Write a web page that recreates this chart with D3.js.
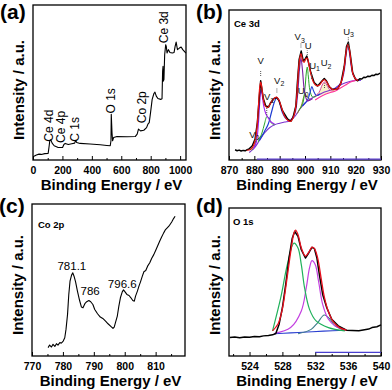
<!DOCTYPE html>
<html><head><meta charset="utf-8">
<script src="https://cdn.jsdelivr.net/npm/d3@7"></script>
<style>body{margin:0;background:#fff}svg{display:block}</style>
</head><body>
<svg id="c" width="392" height="390"></svg>
<script>
// ---------- (a) survey ----------
const surveyTicks = [0,200,400,600,800,1000];
const surveyMinor = [100,300,500,700,900];
const surveyData = [[7,2.4],[23,3.2],[41,3.8],[57,3.6],[80,4.1],[103,4.3],[110,9.2],[114,12.4],[121,13],[130,10.9],[144,9.2],[171,8.1],[201,8.1],[210,10],[219,10.7],[240,10],[263,10.5],[283,10.9],[290,12.6],[297,11.3],[320,10.7],[388,10.3],[457,9.8],[502,9.4],[525,9.2],[530,12.4],[532,29.5],[537,17.7],[541,12.4],[548,14.5],[571,15.2],[639,15],[696,15.2],[708,16.7],[717,19.9],[731,18.8],[753,19.2],[772,20.9],[781,23.1],[790,24.1],[799,30.6],[810,39.1],[822,42.9],[829,43.8],[838,41.2],[849,39.7],[868,39.1],[877,39.5],[881,57.3],[884,60.5],[886,50.9],[890,51.9],[895,67.9],[902,74.4],[906,73.3],[911,69],[920,71.2],[931,69.4],[947,69],[959,69.4],[966,73.3],[973,76.1],[982,71.2],[995,72.2],[1007,72.9],[1018,71.2],[1032,69.7],[1039,69]];
const surveyLabels = [["Ce 4d",109,11.8],["Ce 4p",187,11],["C 1s",283,11.8],["O 1s",533,30],["Co 2p",741,23.7],["Ce 3d",888,75.3]];

// ---------- (b) Ce 3d ----------
const ceTicks = [870,880,890,900,910,920,930];
const ceMinor = [875,885,895,905,915,925];
const ceData = [[872.4,6.8],[873.2,6.2],[874,6.6],[874.8,6],[875.6,6.4],[876.4,6.1],[877.2,6.9],[877.9,7.3],[879.2,9.5],[880.3,14],[881.2,25],[881.9,40.6],[882.5,52.8],[883,47],[883.6,40.6],[884.5,36],[885.6,35.3],[886.5,38.4],[887.8,41],[888.9,41.7],[889.8,39.5],[891.1,32.9],[893.1,27.4],[894.4,25.8],[895.3,28.5],[896.4,36],[897,51.6],[897.7,67.1],[898.5,72.6],[899.3,66],[900,67.1],[900.7,69.3],[901.4,64.9],[902.3,58.3],[903.6,51.6],[905,49.4],[906.7,52.7],[907.6,54.3],[908.5,52.7],[909.6,48.8],[910.9,47],[912.9,47.5],[914.2,51.4],[915.5,62.5],[916.4,75.7],[917.1,78.4],[917.8,71.3],[918.8,58.3],[919.9,53.9],[920.8,52.8],[921.6,54.2],[922.4,54],[923.2,55.2],[924,55],[924.8,55.9],[925.6,55.6],[926.4,56.5],[927.2,56.3],[928,57.2],[928.8,57],[929.6,57.9]];
const ceFit = [[877,6.5],[878.5,7],[879.5,9],[880.3,13],[881,21],[881.6,35],[882.1,48],[882.5,52],[882.9,49],[883.5,41],[884.3,36],[885.3,35],[886.3,37.5],[887.5,40.5],[888.7,42],[889.7,40],[890.8,34.5],[892,29],[893.2,26.5],[894.3,25.8],[895.3,28],[896.3,35],[897,49],[897.7,65],[898.4,71],[899,67],[899.6,65],[900.4,67.5],[900.9,68],[901.5,64],[902.3,57.5],[903.3,52],[904.5,49.5],[905.7,50],[906.8,52.5],[907.7,53.5],[908.6,52],[909.6,49],[910.8,47],[912,47],[913.3,48.5],[914.5,53],[915.5,62],[916.3,73],[916.9,77],[917.5,74],[918.2,65],[919,57],[920,54],[921,53]];
const ceBackground = [[878,5],[880,8],[882,13],[884,18],[886,21.5],[888,23.5],[890,24.5],[892,25.3],[894,26],[896,29],[898,34],[900,38],[902,40.5],[904,42.5],[906,44],[908,45.5],[910,46.5],[912,48],[914,50],[916,51.5],[918,52.5],[920,53],[922,53]];
const cePink = [[904,40],[907,43],[910,45],[912,46],[914,48],[916,50],[918,52],[920,53],[921,53.5]];
const ceV0 = [[879,6.5],[880,9],[880.7,12.5],[881.3,14],[882,14.5],[883,16.5],[884,18.5]];
const ceV = [[879.5,7],[880.8,12],[881.6,24],[882.2,40],[882.6,47],[883.1,43],[883.7,36],[884.5,31],[885.5,28],[886.5,25.5],[888,24]];
const ceV1 = [[881.5,12],[883,18],[884,24],[885,29],[885.8,28],[886.8,24.5],[888,23.5]];
const ceV2 = [[882,13],[884,19],[885.5,24],[886.8,32],[888,39],[888.9,41.5],[889.8,39],[891,32],[892.3,28],[894,26]];
const ceV3 = [[894,26],[896,31],[897,42],[897.8,60],[898.4,68],[899,60],[899.8,46],[901,39.5],[903,41]];
const ceU0 = [[897,31],[898.5,36],[899.5,42],[900.1,44],[900.8,42],[902,40.5]];
const ceU = [[897.5,33],[899,37],[900,48],[900.5,58],[900.9,62],[901.3,56],[902,46],[903,42],[904.5,42.5]];
const ceU1 = [[899,36],[901,40],[902,45],[902.7,49],[903.4,46],[904.5,43],[906,44]];
const ceU2 = [[904,42.5],[905.5,45],[906.8,50],[907.7,52],[908.6,50],[910,46.5],[911.5,47.5]];
const ceU3 = [[912,48],[914,51],[915.3,58],[916.2,70],[916.9,77],[917.5,72],[918.3,62],[919.2,56],[920.5,53.5],[922,53]];
const ceLabels = [["V","",882.5,64],["V","0",880,15],["V","1",885.8,40],["V","2",889.8,51],["V","3",897.9,80],["U","",901.3,74],["U","0",899.3,44],["U","1",903.8,61],["U","2",908.3,62.5],["U","3",917.2,83.5]];
const ceMarks = [[882.5,56,60],[884.9,30,35],[888.9,45,48],[880.5,12,14],[898.4,75,78],[900.9,70,73],[902.6,54,58],[907.7,48,51],[917.1,73.5,82]];

// ---------- (c) Co 2p ----------
const coTicks = [770,780,790,800,810];
const coMinor = [775,785,795,805,815];
const coData = [[775.2,5.5],[775.7,7.2],[776.3,5.9],[776.8,7.7],[777.4,6.3],[777.9,8.1],[778.4,7.2],[779,8.8],[779.5,8.5],[780.1,9.8],[780.6,12],[781,17.5],[781.5,27.4],[781.9,40.5],[782.3,49.2],[782.8,53.2],[783.2,54.7],[783.6,52.5],[784.1,48.8],[784.7,42.7],[785.4,36.5],[786,32.2],[786.5,31.7],[787.1,34.4],[787.7,35.7],[788.4,36.5],[789,35.7],[789.7,33.9],[790.3,30.6],[791.2,27.8],[792.1,25.6],[792.9,24.7],[793.8,23],[794.6,21.2],[795.5,19.5],[796.2,18.2],[796.6,19],[797,21.9],[797.6,26.3],[798.1,32.8],[798.6,38.3],[799.2,42.2],[799.6,43.5],[800.1,42.2],[800.7,40.5],[801.4,39.8],[802,38.3],[802.6,36.5],[803.1,36.1],[803.5,39.4],[804.1,42.7],[804.6,46],[805.1,48.8],[805.7,52.5],[806.2,55.4],[806.8,56.2],[807.4,59.1],[808.1,61.3],[808.7,64.1],[809.4,66.7],[810,69.4],[810.6,72.2],[811.3,75.5],[811.9,78.1],[812.6,81],[813.2,83.2],[813.9,84.7],[814.5,86],[815.2,88.2],[815.8,90.4],[816.3,91.9]];
const coLabels = [["781.1",782.9,56.6],["786",788.8,40],["796.6",799.2,44.7]];

// ---------- (d) O 1s ----------
const oTicks = [524,528,532,536,540];
const oMinor = [522,526,530,534,538];
const oData = [[521.6,12.5],[522.2,12.8],[522.8,12.3],[523.4,12.9],[524,12.6],[524.6,13.2],[525.2,13],[525.7,13.6],[526.3,13.9],[526.8,14.3],[527.2,15.2],[527.6,21.5],[528,32.6],[528.4,48.3],[528.8,66.2],[529.2,79.6],[529.5,84.1],[529.9,80.8],[530.3,71.8],[530.8,66.2],[531.2,69.6],[531.6,73.4],[531.9,72.5],[532.2,66.2],[532.5,55],[532.9,41.6],[533.4,32.6],[534,24.8],[534.8,20.4],[535.8,17.4],[536.5,17.3],[537.3,17],[538,17.8],[538.5,18.2],[538.9,19.2],[539.5,19.8],[540,21]];
const oFit = [[526.8,17],[527.5,22],[528,32],[528.5,50],[529,70],[529.4,83],[529.6,85],[529.9,82],[530.3,73],[530.8,67.5],[531.2,70],[531.6,73.5],[531.9,72.5],[532.3,66],[532.7,53],[533.1,40],[533.6,30],[534.2,23],[535,19],[535.8,17.5]];
const oLattice = [[526.8,17],[527.8,39.4],[528.6,61.7],[529.4,76.3],[529.9,73],[530.3,61.7],[530.7,46],[531.3,31.5],[532.1,23.7],[533.6,19.2],[535.6,17]];
const oDefect = [[527,15.2],[529,19.2],[530.3,30.4],[530.9,46],[531.3,59.5],[531.6,64.4],[532,61.7],[532.4,50.5],[532.9,34.9],[533.6,24.8],[534.4,20.4],[535.6,18]];
const oWater = [[529.9,15],[531.5,18],[532.3,22.6],[533.1,27.7],[533.8,24.8],[534.4,20.4],[535.6,17.2]];
const oBase = [[527,15],[529,15.6],[531,16.2],[533,16.8],[535.6,17.4]];
const oBottom = [[532,2.5],[540,2.5]];

const FONT = '"Liberation Sans", Arial, Helvetica, sans-serif';
const svg = d3.select('#c');

function panel(cfg){
  const g = svg.append('g');
  const x = d3.scaleLinear().domain(cfg.xDomain).range([cfg.left, cfg.right]);
  const y = d3.scaleLinear().domain([0,100]).range([cfg.bottom, cfg.top]);
  g.append('g').attr('transform',`translate(0,${cfg.bottom})`)
    .call(d3.axisBottom(x).tickValues(cfg.minor).tickSize(-2).tickFormat(''))
    .call(s=>{s.select('.domain').remove(); s.selectAll('text').remove(); s.selectAll('line').attr('stroke','#000');});
  const ax = g.append('g').attr('transform',`translate(0,${cfg.bottom})`)
    .call(d3.axisBottom(x).tickValues(cfg.ticks).tickSize(-4).tickFormat(d3.format('d')))
    .call(s=>s.select('.domain').remove());
  ax.selectAll('line').attr('stroke','#000');
  ax.selectAll('text').attr('y', cfg.tickY - cfg.bottom).attr('dy',0)
    .attr('font-family',FONT).attr('font-size',10.5).attr('font-weight','bold').attr('fill','#000');
  g.append('rect').attr('x',cfg.left).attr('y',cfg.top).attr('width',cfg.right-cfg.left).attr('height',cfg.bottom-cfg.top)
    .attr('fill','none').attr('stroke','#000').attr('stroke-width',1.3);
  g.append('text').attr('x',(cfg.left+cfg.right)/2+2).attr('y',cfg.titleY).attr('text-anchor','middle')
    .attr('font-family',FONT).attr('font-size',15).attr('font-weight','bold').text('Binding Energy / eV');
  g.append('text').attr('transform',`translate(${cfg.left-9},${cfg.yTitleC}) rotate(-90)`).attr('text-anchor','middle')
    .attr('font-family',FONT).attr('font-size',15).attr('font-weight','bold').text('Intensity / a.u.');
  g.append('text').attr('x',cfg.left-33).attr('y',cfg.tagY).attr('font-family',FONT).attr('font-size',21).attr('font-weight','bold').text(cfg.tag);
  if(cfg.name) g.append('text').attr('x',cfg.nameX).attr('y',cfg.nameY).attr('font-family',FONT).attr('font-size',9.5).attr('font-weight','bold').text(cfg.name);
  const line = (curve)=>d3.line().x(d=>x(d[0])).y(d=>y(d[1])).curve(curve||d3.curveLinear);
  return {g,x,y,line};
}

function draw(p, data, color, w, curve){
  p.g.append('path').datum(data).attr('d', p.line(curve)).attr('fill','none').attr('stroke',color).attr('stroke-width',w).attr('stroke-linejoin','round');
}

// (a)
const pa = panel({xDomain:[0,1040],ticks:surveyTicks,minor:surveyMinor,left:33,right:186,top:5,bottom:160,tickY:174,titleY:189.5,yTitleC:90,tag:'(a)',tagY:19});
draw(pa, surveyData, '#000', 1.1);
surveyLabels.forEach(([t,e,i])=>{
  pa.g.append('text').attr('transform',`translate(${pa.x(e)+4},${pa.y(i)}) rotate(-90)`)
    .attr('font-family',FONT).attr('font-size',12).text(t);
});

// (b)
const pb = panel({xDomain:[870,930],ticks:ceTicks,minor:ceMinor,left:229,right:381,top:10,bottom:160,tickY:174,titleY:189.5,yTitleC:90,tag:'(b)',tagY:19,name:'Ce 3d',nameX:234,nameY:27});
const cr = d3.curveCatmullRom;
pb.g.append('path').datum(ceU2).attr('d', d3.area().x(d=>pb.x(d[0])).y0(d=>pb.y(42+ (d[0]-904)*0.55)).y1(d=>pb.y(d[1])).curve(cr)).attr('fill','#f4eeb8').attr('opacity',0.8);
pb.g.append('line').attr('x1',pb.x(881)).attr('x2',pb.x(930)).attr('y1',pb.y(0.6)).attr('y2',pb.y(0.6)).attr('stroke','#5a3cd0').attr('stroke-width',1.2);
draw(pb, ceBackground, '#7b2fd0', 1.1, cr);
draw(pb, cePink, '#ff3399', 1.1, cr);
draw(pb, ceV0, '#2aa52a', 1, cr);
draw(pb, ceV1, '#2aa52a', 1, cr);
draw(pb, ceU0, '#8a8a20', 1, cr);
draw(pb, ceU, '#2aa52a', 1, cr);
draw(pb, ceV2, '#1e3cd2', 1.2, cr);
draw(pb, ceU1, '#1e3cd2', 1.1, cr);
draw(pb, ceU2, '#d94aa0', 1, cr);
draw(pb, ceV, '#a020f0', 1.1, cr);
draw(pb, ceV3, '#7a1fa2', 1.1, cr);
draw(pb, ceU3, '#6a3cd8', 1.2, cr);
draw(pb, ceData, '#000', 1.5);
draw(pb, ceFit, '#ee1111', 1.2, cr);
ceMarks.forEach(([e,i1,i2])=>{
  pb.g.append('line').attr('x1',pb.x(e)).attr('x2',pb.x(e)).attr('y1',pb.y(i1)).attr('y2',pb.y(i2)).attr('stroke','#555').attr('stroke-width',1).attr('stroke-dasharray','1,1');
});
ceLabels.forEach(([t,s,e,i])=>{
  const tx = pb.g.append('text').attr('x',pb.x(e)).attr('y',pb.y(i)).attr('text-anchor','middle').attr('font-family',FONT).attr('font-size',9.5).attr('fill','#111');
  tx.append('tspan').text(t);
  if(s) tx.append('tspan').attr('font-size',7).attr('dy',2.5).text(s);
});

// (c)
const pc = panel({xDomain:[770,819.5],ticks:coTicks,minor:coMinor,left:32,right:185,top:204,bottom:356,tickY:370,titleY:386,yTitleC:285,tag:'(c)',tagY:213,name:'Co 2p',nameX:38,nameY:228});
draw(pc, coData, '#000', 1.1);
coLabels.forEach(([t,e,i])=>{
  pc.g.append('text').attr('x',pc.x(e)).attr('y',pc.y(i)).attr('text-anchor','middle').attr('font-family',FONT).attr('font-size',11.5).text(t);
});

// (d)
const pd = panel({xDomain:[521.5,540],ticks:oTicks,minor:oMinor,left:229,right:381,top:208,bottom:356,tickY:370,titleY:386,yTitleC:285,tag:'(d)',tagY:213,name:'O 1s',nameX:233,nameY:225});
draw(pd, oBottom, '#4a3fd0', 1.2);
draw(pd, oBase, '#2a3fd0', 1.1, cr);
draw(pd, oWater, '#3d7b8a', 1.1, cr);
draw(pd, oDefect, '#c33fe0', 1.2, cr);
draw(pd, oLattice, '#1fb15a', 1.2, cr);
draw(pd, oData, '#000', 1.5);
draw(pd, oFit, '#e8101e', 1.3, cr);
</script>
</body></html>
